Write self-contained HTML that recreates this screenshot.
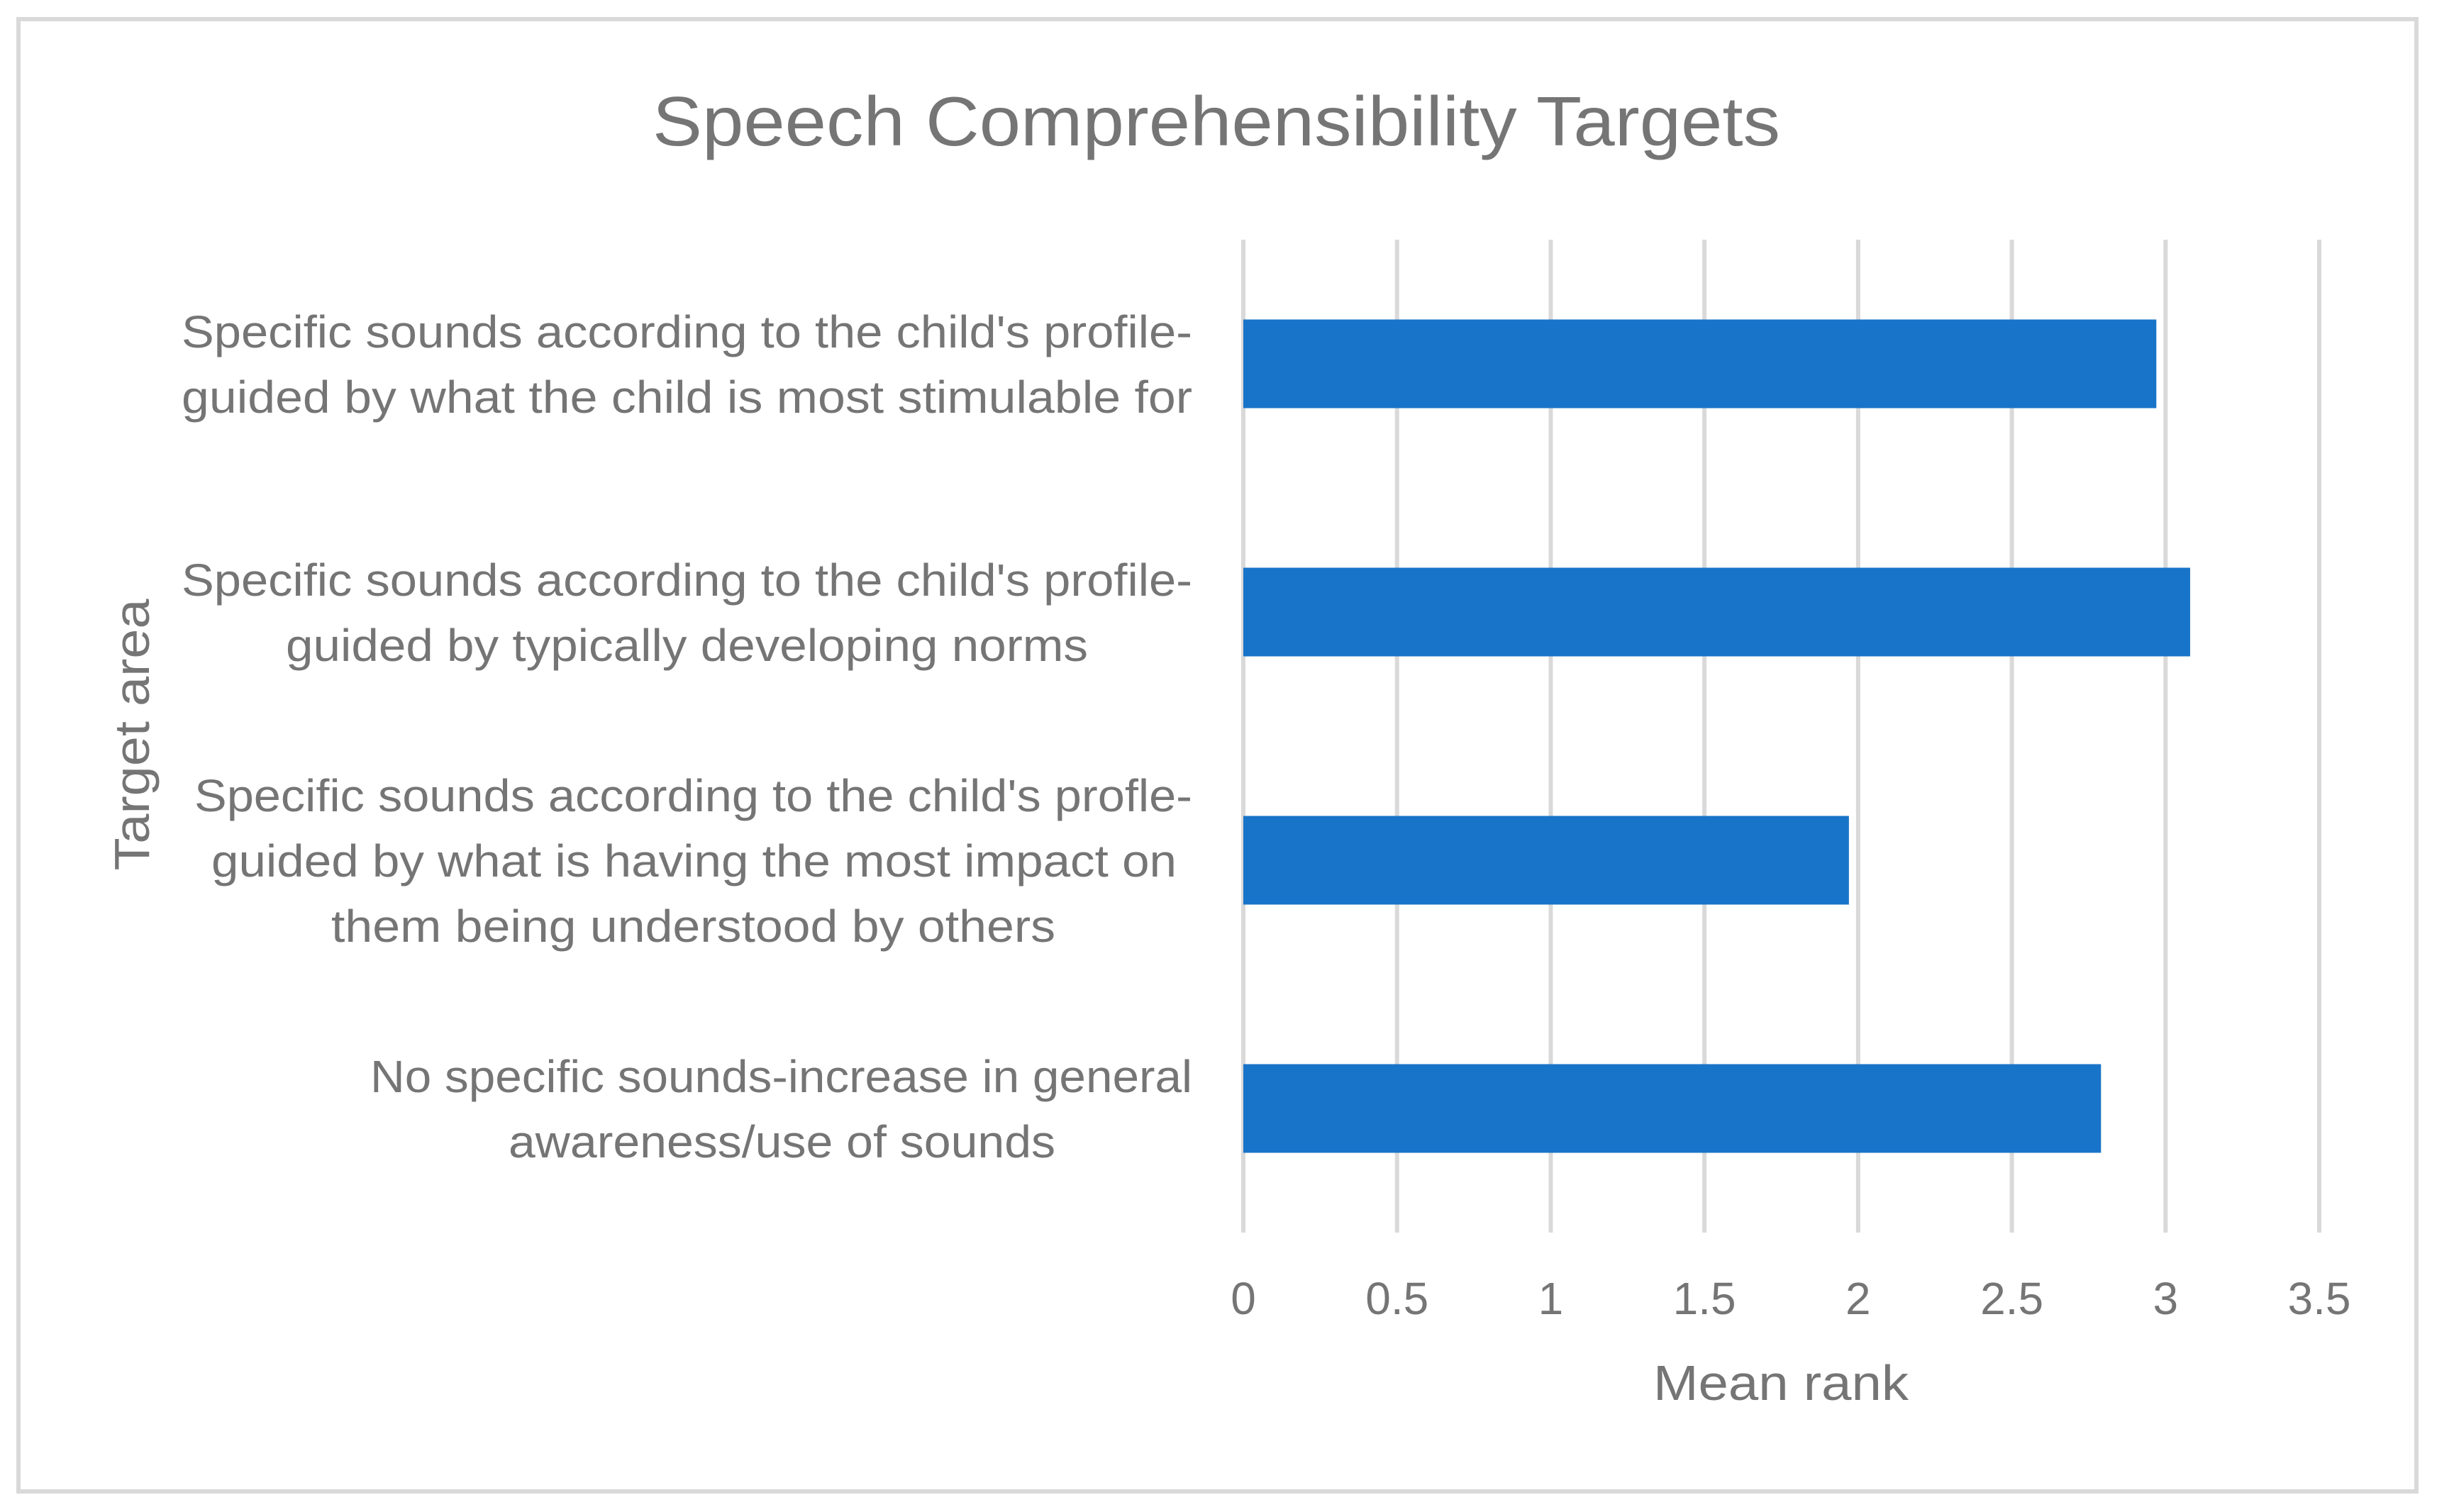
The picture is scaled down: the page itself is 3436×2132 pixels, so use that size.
<!DOCTYPE html>
<html><head><meta charset="utf-8"><style>
html,body{margin:0;padding:0;background:#fff;}
svg{display:block;font-family:"Liberation Sans",sans-serif;}
</style></head><body>
<svg id="chart" width="3436" height="2132" viewBox="0 0 3436 2132">
<rect x="26" y="27" width="3381" height="2076" fill="#fff" stroke="#d9d9d9" stroke-width="6"/>
<text x="1715" y="205" text-anchor="middle" font-size="98" fill="#757575" textLength="1590" lengthAdjust="spacingAndGlyphs">Speech Comprehensibility Targets</text>
<g id="grid"></g>
<g id="bars"></g>
<g id="ticks"></g>
<g id="cats"></g>
<text x="2511" y="1974" text-anchor="middle" font-size="70" fill="#757575" textLength="360" lengthAdjust="spacingAndGlyphs">Mean rank</text>
<text transform="translate(210,1036) rotate(-90)" text-anchor="middle" font-size="70" fill="#757575" textLength="383" lengthAdjust="spacingAndGlyphs">Target area</text>
</svg>
<script>
const categories = [
  ["Specific sounds according to the child's profile-","guided by what the child is most stimulable for"],
  ["Specific sounds according to the child's profile-","guided by typically developing norms"],
  ["Specific sounds according to the child's profle-","guided by what is having the most impact on","them being understood by others"],
  ["No specific sounds-increase in general","awareness/use of sounds"]
];
const values = [2.97, 3.08, 1.97, 2.79];
const ticks = [0, 0.5, 1, 1.5, 2, 2.5, 3, 3.5];
const tickLabels = ["0","0.5","1","1.5","2","2.5","3","3.5"];

// label line extents (layout only, px)
const lineExtents = [
  [[256,1681],[256,1681]],
  [[256,1681],[403,1534]],
  [[274,1681],[298,1659],[467,1488]],
  [[522,1681],[717,1488]]
];

const NS = "http://www.w3.org/2000/svg";
const x0 = 1753, x1 = 3270, xMax = 3.5;
const yTop = 338, yBot = 1738;
function xs(v){ return x0 + (x1 - x0) * v / xMax; }
const band = (yBot - yTop) / categories.length;
function yc(i){ return yTop + band * (i + 0.5); }
function mk(tag, attrs, parent){ const e = document.createElementNS(NS, tag); for (const k in attrs) e.setAttribute(k, attrs[k]); parent.appendChild(e); return e; }

const grid = document.getElementById('grid');
const tk = document.getElementById('ticks');
ticks.forEach((t, i) => {
  const l = mk('line', {x1: xs(t), x2: xs(t), y1: yTop, y2: yBot, stroke: '#d9d9d9', 'stroke-width': 6}, grid);
  
  
  const tx = mk('text', {x: xs(t), y: 1853, 'text-anchor': 'middle', 'font-size': 64, fill: '#757575'}, tk);
  tx.textContent = tickLabels[i];
  
  
});

const bars = document.getElementById('bars');
const bh = 125;
values.forEach((v, i) => {
  const r = mk('rect', {x: xs(0), y: yc(i) - bh / 2, width: xs(v) - xs(0), height: bh, fill: '#1874c8'}, bars);
  
  
});

const cats = document.getElementById('cats');
const lh = 92;
categories.forEach((lines, i) => {
  const g = mk('g', {}, cats);
  
  
  const n = lines.length;
  lines.forEach((s, j) => {
    const cy = yc(i) + (j - (n - 1) / 2) * lh;
    const ext = (lineExtents[i] && lineExtents[i][j]) || [969 - s.length * 14.5, 969 + s.length * 14.5];
    const t = mk('text', {x: ext[0], y: cy + 23, 'font-size': 64, fill: '#757575', textLength: (ext[1] - ext[0]).toFixed(0), lengthAdjust: 'spacingAndGlyphs'}, g);
    t.textContent = s;
  });
});
</script>
</body></html>
